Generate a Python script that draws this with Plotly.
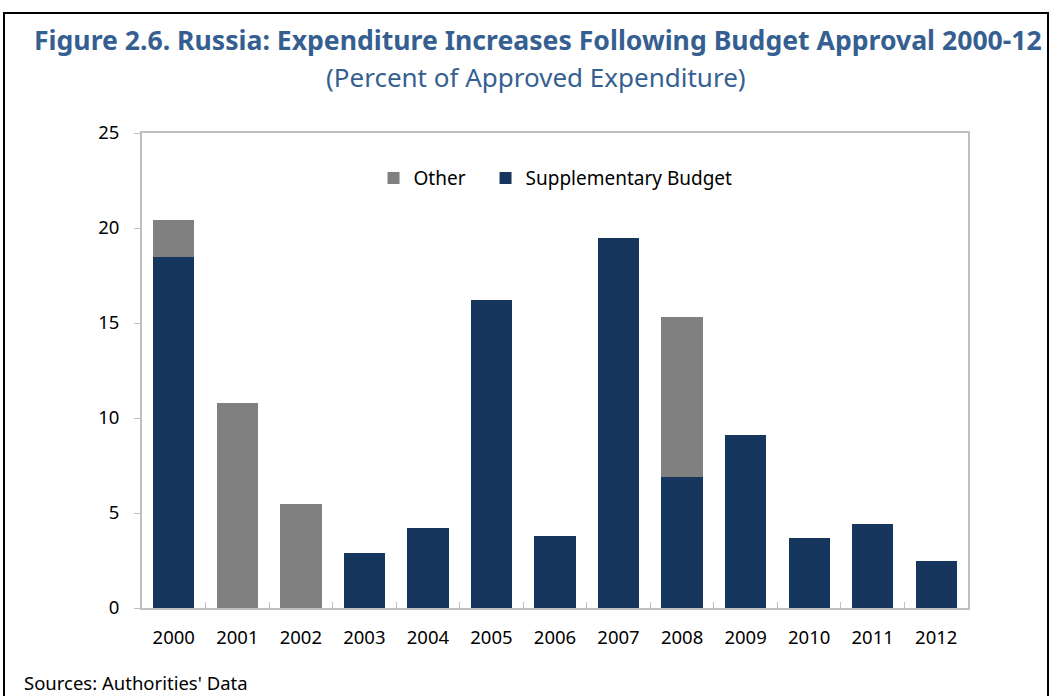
import plotly.graph_objects as go

years = ["2000", "2001", "2002", "2003", "2004", "2005", "2006",
         "2007", "2008", "2009", "2010", "2011", "2012"]
supplementary = [18.5, 0, 0, 2.9, 4.2, 16.2, 3.8, 19.5, 6.9, 9.1, 3.7, 4.4, 2.5]
other = [1.9, 10.8, 5.5, 0, 0, 0, 0, 0, 8.4, 0, 0, 0, 0]
y_ticks = [0, 5, 10, 15, 20, 25]

FONT = "Noto Sans"
BLUE_TEXT = "#365F91"
GRID = "#BFBFBF"

fig = go.Figure()
fig.add_trace(go.Bar(x=years, y=supplementary, name="Supplementary Budget",
                     legend="legend2",
                     marker=dict(color="#17365D", line=dict(width=0))))
fig.add_trace(go.Bar(x=years, y=other, name="Other", legend="legend",
                     marker=dict(color="#808080", line=dict(width=0))))

legend_style = dict(orientation="h", y=0.905, xanchor="left", yanchor="middle",
                    font=dict(size=19), bgcolor="rgba(0,0,0,0)")

fig.update_layout(
    width=1052, height=696,
    barmode="stack", bargap=0.35,
    plot_bgcolor="white", paper_bgcolor="white",
    margin=dict(l=142, r=84, t=133, b=88),
    font=dict(family=FONT, size=18, color="black"),
    showlegend=True,
    legend=dict(x=0.2803, **legend_style),
    legend2=dict(x=0.4159, **legend_style),
    xaxis=dict(type="category", showline=True, linecolor=GRID, linewidth=2,
               mirror=True, ticks="inside", tickson="boundaries",
               ticklen=6, tickcolor=GRID, ticklabelstandoff=12,
               tickfont=dict(size=18.5)),
    yaxis=dict(range=[0, 25], tickvals=y_ticks, showgrid=False, zeroline=False,
               showline=True, linecolor=GRID, linewidth=2, mirror=True,
               ticks="outside", ticklen=6, tickcolor=GRID, ticklabelstandoff=11,
               tickfont=dict(size=18.5)),
)

# Figure frame
fig.add_shape(type="rect", xref="paper", yref="paper",
              x0=-138/826, x1=(1048-142)/826, y0=-0.3, y1=(608-13)/475,
              line=dict(color="black", width=2), fillcolor="rgba(0,0,0,0)")

fig.add_annotation(text="<b>Figure 2.6. Russia: Expenditure Increases Following Budget Approval 2000-12</b>",
                   xref="paper", yref="paper", x=(538-142)/826, y=(608-40)/475,
                   xanchor="center", yanchor="middle", showarrow=False,
                   font=dict(family=FONT, size=26.6, color=BLUE_TEXT))
fig.add_annotation(text="(Percent of Approved Expenditure)",
                   xref="paper", yref="paper", x=(536-142)/826, y=(608-77)/475,
                   xanchor="center", yanchor="middle", showarrow=False,
                   font=dict(family=FONT, size=26, color=BLUE_TEXT))
fig.add_annotation(text="Sources: Authorities' Data",
                   xref="paper", yref="paper", x=(22-142)/826, y=(608-682)/475,
                   xanchor="left", yanchor="middle", showarrow=False,
                   font=dict(family=FONT, size=18.5, color="black"))

fig.write_html("out.html")
